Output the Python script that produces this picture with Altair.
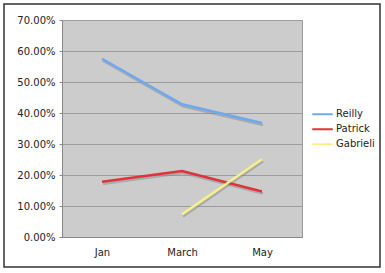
import altair as alt
import pandas as pd

months = ["Jan", "March", "May"]
series = ["Reilly", "Patrick", "Gabrieli"]
reilly = [0.575, 0.428, 0.368]
patrick = [0.178, 0.213, 0.147]
gabrieli = [None, 0.073, 0.251]
colors = ["#6ea8f2", "#e0323a", "#f7ef8a"]
y_ticks = [0, 0.1, 0.2, 0.3, 0.4, 0.5, 0.6, 0.7]

rows = []
for name, vals in zip(series, [reilly, patrick, gabrieli]):
    for m, v in zip(months, vals):
        if v is not None:
            rows.append({"month": m, "series": name, "value": v})
df = pd.DataFrame(rows)

FONT = "DejaVu Sans"

x_enc = alt.X(
    "month:O", sort=months,
    scale=alt.Scale(type="point", padding=0.5),
    axis=alt.Axis(title=None, labelAngle=0, ticks=False, domainColor="#888888",
                  labelPadding=10, labelFontSize=10, labelColor="#222222", labelFont=FONT),
)
y_enc = alt.Y(
    "value:Q",
    scale=alt.Scale(domain=[0, 0.7], nice=False),
    axis=alt.Axis(title=None, values=y_ticks, format=".2%", grid=True, gridColor="#9c9c9c",
                  domainColor="#888888", tickColor="#888888", tickSize=3, labelPadding=4,
                  labelFontSize=10, labelColor="#222222", labelFont=FONT),
)

base = alt.Chart(df)

shadow = base.mark_line(strokeWidth=2.5, color="#888888", opacity=0.5, xOffset=1, yOffset=2).encode(
    x=x_enc, y=y_enc, detail="series:N", order="month:O"
)

lines = base.mark_line(strokeWidth=2.5).encode(
    x=x_enc, y=y_enc,
    color=alt.Color(
        "series:N", sort=series,
        scale=alt.Scale(domain=series, range=colors),
        legend=alt.Legend(title=None, orient="none", legendX=249, legendY=87,
                          symbolType="stroke", symbolSize=420, symbolStrokeWidth=2,
                          labelFontSize=10, labelFont=FONT, labelColor="#222222",
                          rowPadding=0, clipHeight=14.7, labelOffset=2),
    ),
)

frame = alt.Chart(pd.DataFrame({"a": [0]})).mark_rect(
    fill="transparent", stroke="#333333", strokeWidth=1.5
).encode(
    x=alt.value(-58), x2=alt.value(318), y=alt.value(-16), y2=alt.value(247)
)

chart = alt.layer(shadow, lines, frame).properties(
    width=240, height=217,
    autosize=alt.AutoSizeParams(type="none"),
    padding={"left": 62, "top": 20, "right": 83, "bottom": 36},
    background="white",
).configure_view(fill="#cccccc", stroke="#999999")

chart.save("out.html", embed_options={"renderer": "svg", "actions": False})
